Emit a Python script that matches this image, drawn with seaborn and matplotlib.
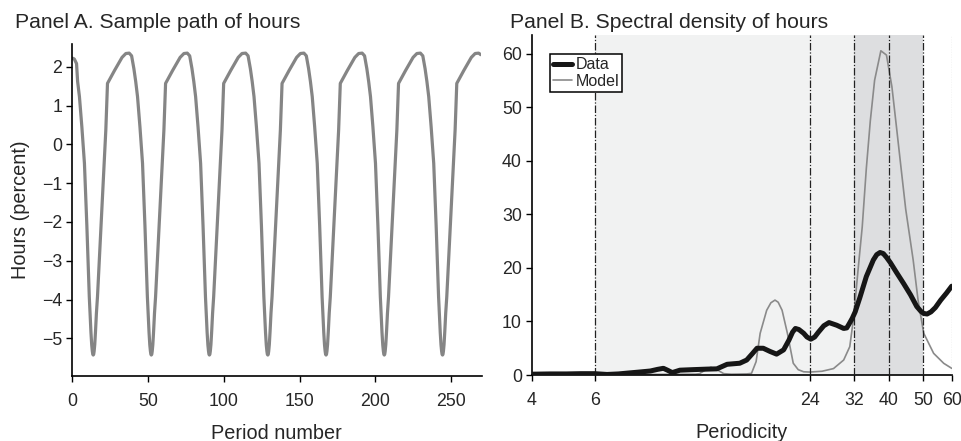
import numpy as np
import pandas as pd
import matplotlib
matplotlib.use("Agg")
import matplotlib.pyplot as plt
import seaborn as sns
from matplotlib.lines import Line2D

# ---------------- Panel A: sample path of hours ----------------
trough_periods = [14.0, 52.3, 90.6, 129.1, 167.5, 205.9, 244.3]
cycle_offset = [-14.6, -13.0, -11.5, -10.3, -9.1, -7.5, -5.8, -4.2, -2.6, -2.0, -1.5, -1.0,
                -0.6, -0.3, 0.0, 0.3, 0.6, 1.0, 1.5, 2.1, 2.8, 4.5, 6.1, 8.3, 9.4,
                14.0, 19.0, 21.5]
cycle_value = [2.35, 2.28, 1.95, 1.62, 1.23, 0.45, -0.49, -2.10, -3.93, -4.45, -4.85, -5.17,
               -5.33, -5.41, -5.43, -5.41, -5.33, -5.16, -4.82, -4.35, -3.93, -2.60, -1.35,
               0.37, 1.57, 1.90, 2.24, 2.34]
start_period = [0.3, 1.5, 3.0]
start_value = [2.22, 2.20, 2.08]
end_offset = [23.8, 25.2]
end_value = [2.35, 2.31]

# ---------------- Panel B: spectral density ----------------
data_period = [4.0, 4.5, 5.0, 5.5, 6.0, 6.5, 7.0, 7.4, 8.0, 8.6, 9.0, 9.35, 9.6, 9.9, 10.4, 11.3,
               12.4, 13.2, 14.1, 15.3, 16.0, 16.6, 17.1, 17.8, 18.6, 19.4, 20.3, 21.0,
               21.5, 21.9, 22.4, 23.1, 23.6, 24.2, 24.8, 25.4, 26.3, 27.2, 28.6, 29.9, 30.5,
               31.0, 31.6, 32.2, 33.2, 34.6, 36.2, 37.0, 37.8, 38.6, 39.4, 40.4, 42.0,
               44.0, 46.0, 47.9, 49.2, 50.1, 51.2, 52.5, 54.0, 55.9, 58.0, 60.0]
data_density = [0.15, 0.2, 0.2, 0.25, 0.25, 0.1, 0.2, 0.35, 0.55, 0.75, 1.05, 1.25, 0.9, 0.45,
                0.9, 1.0, 1.1, 1.15, 2.0, 2.2, 2.8, 4.0, 5.0, 5.0, 4.4, 3.9, 4.7, 6.5,
                8.0, 8.7, 8.5, 7.8, 7.1, 6.7, 7.1, 8.0, 9.2, 9.8, 9.3, 8.7, 8.8,
                9.6, 10.6, 11.8, 14.5, 18.4, 21.5, 22.5, 22.9, 22.7, 22.0, 21.0, 19.2,
                17.1, 15.0, 12.8, 11.9, 11.5, 11.4, 11.8, 12.6, 14.0, 15.3, 16.6]
model_period = [4.0, 8.0, 11.5, 11.8, 12.3, 12.7, 13.2, 13.8, 14.5, 16.0, 16.5, 17.0, 17.45,
                18.2, 18.7, 19.2, 19.6, 20.1, 20.8, 21.6, 22.3, 23.1, 24.0, 26.0, 28.0,
                29.9, 31.1, 31.9, 32.8, 33.7, 34.6, 35.5, 36.5, 38.0, 39.4, 40.8, 42.0,
                43.3, 44.6, 46.8, 48.3, 50.1, 53.4, 57.0, 60.0]
model_density = [0.05, 0.1, 0.15, 0.25, 1.0, 1.45, 1.0, 0.25, 0.15, 0.2, 0.3, 2.5, 7.8,
                 12.1, 13.5, 14.0, 13.6, 12.1, 7.8, 2.2, 1.0, 0.6, 0.55, 0.7, 1.2,
                 2.8, 5.3, 10.9, 19.6, 27.7, 38.6, 47.5, 55.1, 60.6, 59.8, 53.9, 46.5,
                 38.6, 31.0, 21.5, 14.0, 7.8, 4.05, 2.18, 1.25]
light_band = (6, 32)
dark_band = (32, 50)
dashdot_periods = [6, 24, 32, 40, 50]
dotted_period = 60
xticks_b = [4, 6, 24, 32, 40, 50, 60]

# ---------------- build path ----------------
t_path = list(start_period)
v_path = list(start_value)
for tr in trough_periods:
    for d, v in zip(cycle_offset, cycle_value):
        t = tr + d
        if t > t_path[-1]:
            t_path.append(t)
            v_path.append(v)
for d, v in zip(end_offset, end_value):
    t_path.append(trough_periods[-1] + d)
    v_path.append(v)
df_a = pd.DataFrame({"period": t_path, "hours": v_path})
df_d = pd.DataFrame({"p": data_period, "v": data_density})
df_m = pd.DataFrame({"p": model_period, "v": model_density})

sns.set_style("ticks")
plt.rcParams["font.family"] = ["Liberation Sans", "DejaVu Sans"]
plt.rcParams["axes.linewidth"] = 1.2

TICK_FS = 12.8
LABEL_FS = 14.3
TITLE_FS = 15.2

W, H = 961, 441
fig = plt.figure(figsize=(W / 100, H / 100), dpi=100)
axA = fig.add_axes([72 / W, 1 - 376 / H, (481.5 - 72) / W, (376 - 44) / H])
axB = fig.add_axes([531.7 / W, 1 - 375 / H, (951.7 - 531.7) / W, (375 - 35) / H])

# Panel A
sns.lineplot(data=df_a, x="period", y="hours", ax=axA, sort=False, estimator=None,
             color="#858585", linewidth=2.3, solid_joinstyle="round")
axA.set_xlim(0, 270)
axA.set_ylim(-5.97, 2.585)
axA.set_xticks([0, 50, 100, 150, 200, 250])
axA.set_yticks([-5, -4, -3, -2, -1, 0, 1, 2])
axA.set_xlabel("Period number", fontsize=LABEL_FS, labelpad=10)
axA.set_ylabel("Hours (percent)", fontsize=LABEL_FS, labelpad=9)
sns.despine(ax=axA)

# Panel B
axB.set_xscale("log")
axB.axvspan(*light_band, color="#f1f2f2", zorder=0, lw=0)
axB.axvspan(*dark_band, color="#dddee0", zorder=0, lw=0)
sns.lineplot(data=df_m, x="p", y="v", ax=axB, sort=False, estimator=None,
             color="#8a8a8a", linewidth=1.2, zorder=2)
for p in dashdot_periods:
    axB.axvline(p, color="#222222", lw=0.9, ls=(0, (6, 1.5, 1, 1.5)), zorder=3)
axB.axvline(dotted_period, color="#b5b5b5", lw=0.9, ls=(0, (1, 1)), zorder=3)
sns.lineplot(data=df_d, x="p", y="v", ax=axB, sort=False, estimator=None,
             color="#161616", linewidth=3.6, zorder=4, solid_joinstyle="round")
axB.set_xlim(4, 60)
axB.set_ylim(0, 63.55)
axB.set_xticks(xticks_b)
axB.set_xticklabels([str(x) for x in xticks_b])
axB.xaxis.set_minor_locator(matplotlib.ticker.NullLocator())
axB.set_yticks([0, 10, 20, 30, 40, 50, 60])
axB.set_xlabel("Periodicity", fontsize=LABEL_FS, labelpad=10)
axB.set_ylabel("")
sns.despine(ax=axB)

handles = [Line2D([], [], color="#161616", lw=3.6), Line2D([], [], color="#8a8a8a", lw=1.2)]
leg = axB.legend(handles, ["Data", "Model"], loc="upper left",
                 bbox_to_anchor=(0.0436, 0.944), borderaxespad=0, fontsize=11.5,
                 frameon=True, fancybox=False, edgecolor="black", framealpha=1,
                 handlelength=1.15, handletextpad=0.25, labelspacing=0.08, borderpad=0.2)
leg.get_frame().set_linewidth(1.1)

for ax in (axA, axB):
    ax.tick_params(axis="both", labelsize=TICK_FS, length=4, width=1.0, color="black",
                   direction="out")
    ax.tick_params(axis="x", pad=8)
    ax.tick_params(axis="y", pad=3)
    for s in ("left", "bottom"):
        ax.spines[s].set_color("black")

fig.text(15 / W, 1 - 28 / H, "Panel A. Sample path of hours", fontsize=TITLE_FS,
         va="baseline", ha="left")
fig.text(510 / W, 1 - 28 / H, "Panel B. Spectral density of hours", fontsize=TITLE_FS,
         va="baseline", ha="left")

fig.savefig("out.png", dpi=100)
